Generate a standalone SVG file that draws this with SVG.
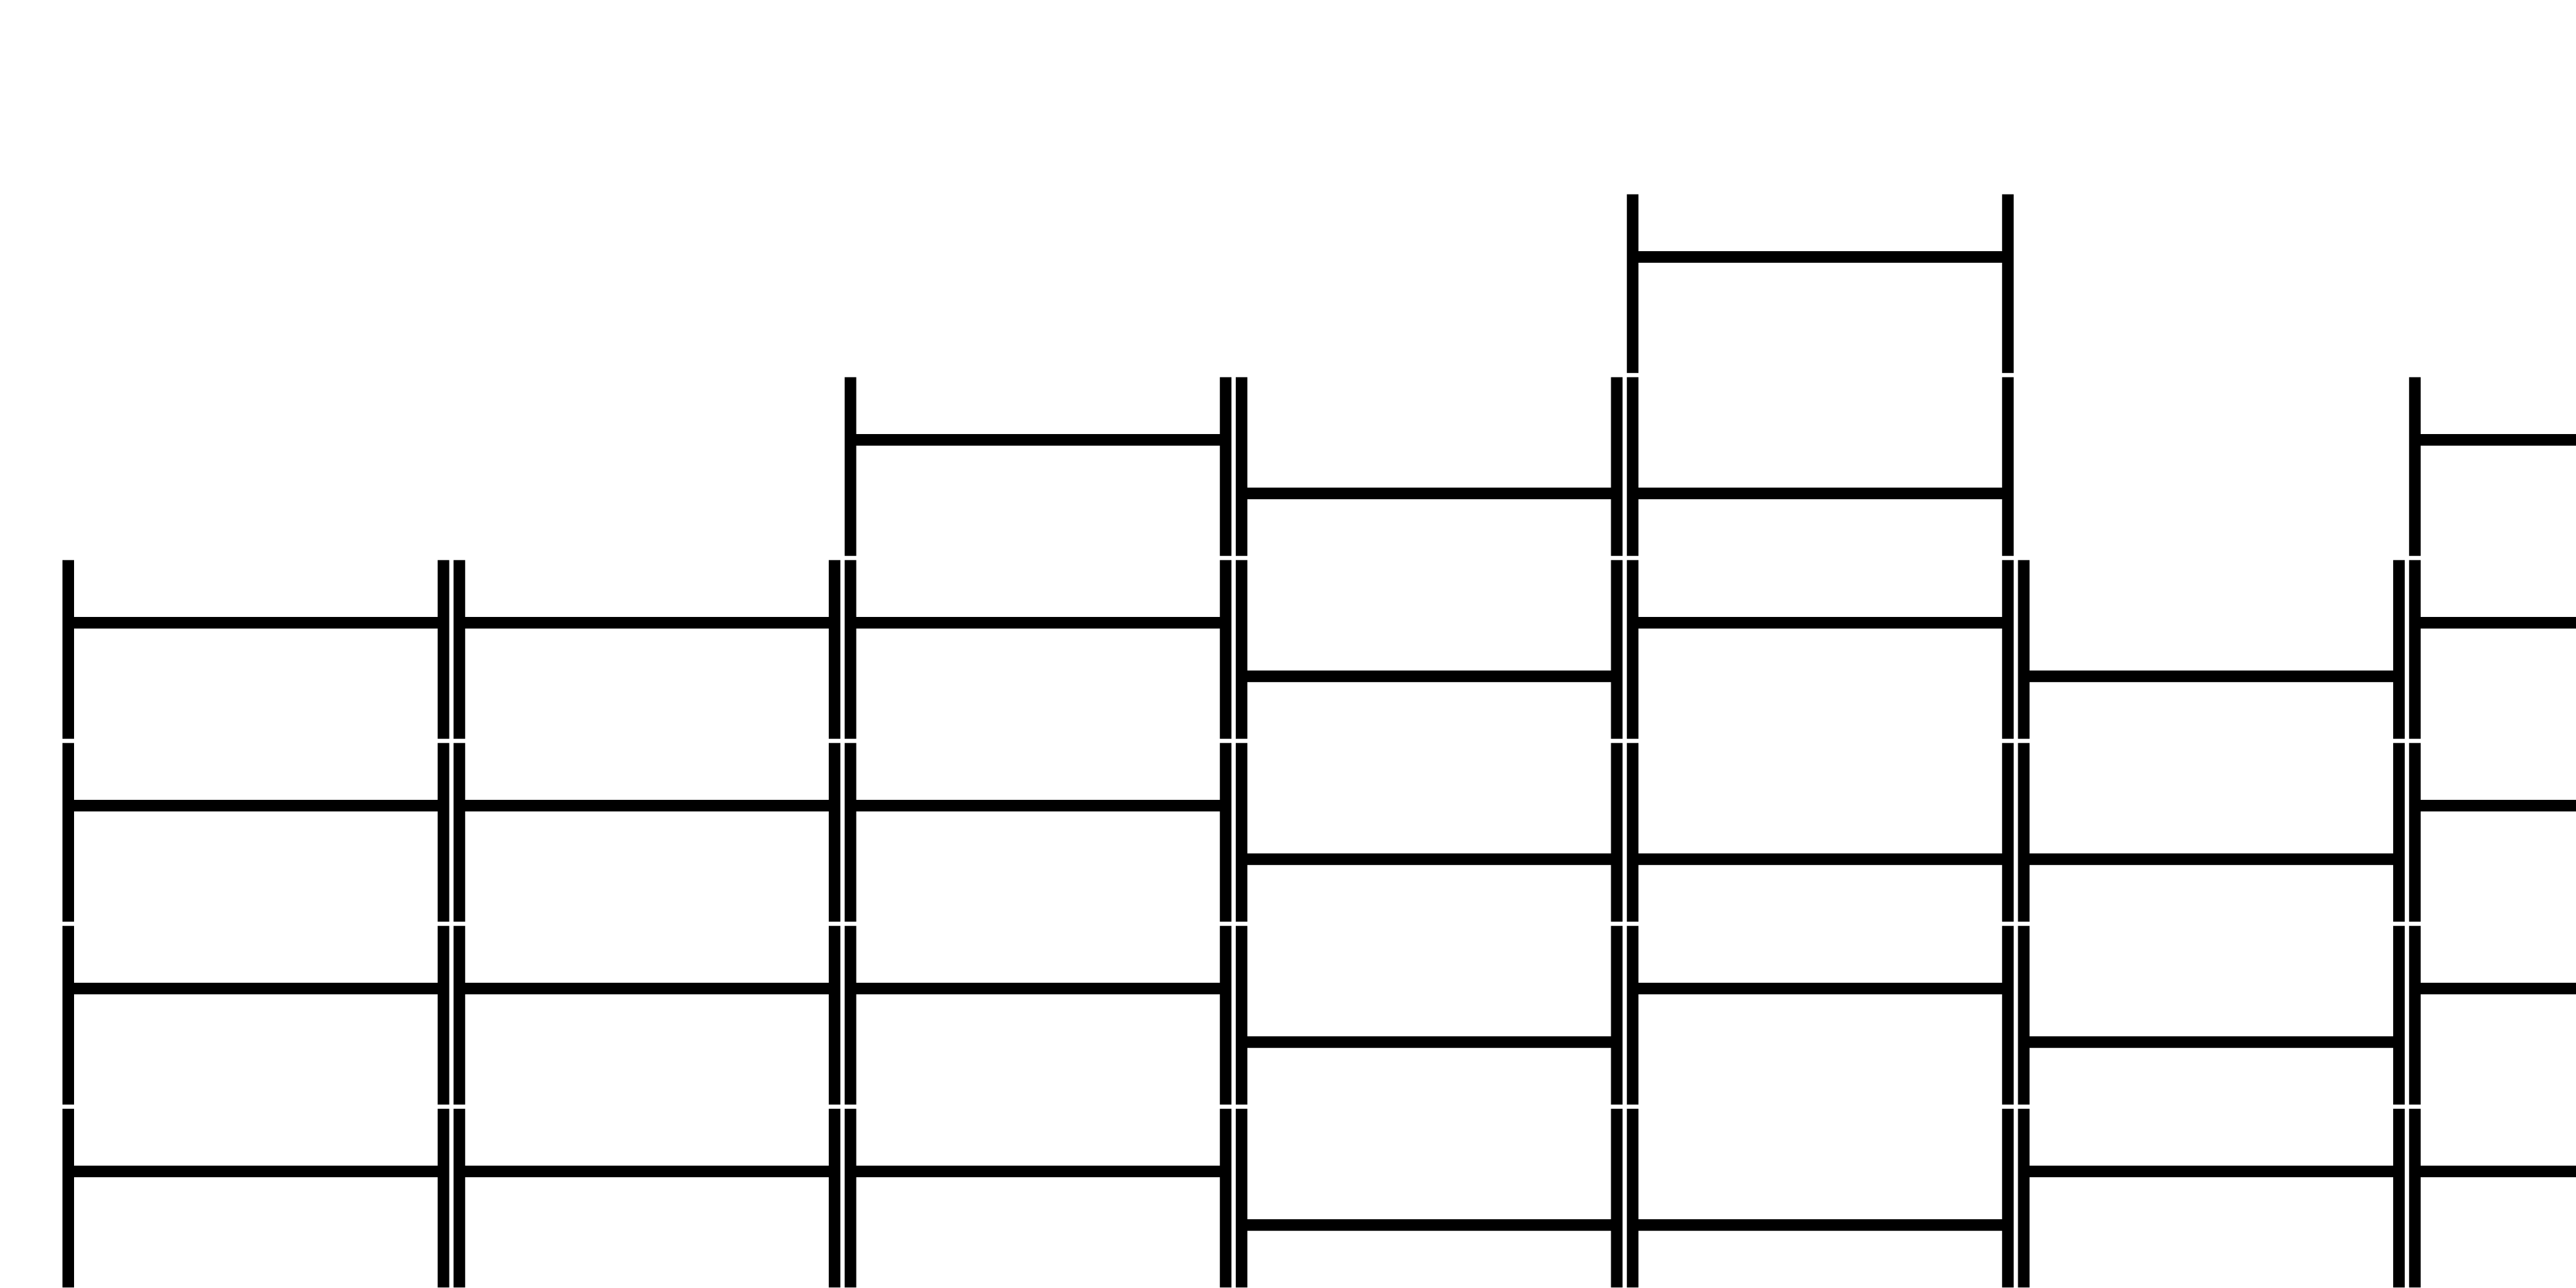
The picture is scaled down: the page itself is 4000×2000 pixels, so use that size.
<svg xmlns="http://www.w3.org/2000/svg" width="4000" height="2000" viewBox="0 0 4000 2000">
  <style>
    .p { fill: #000; }
  </style>
  <defs>
    <g id="segU">
      <rect class="p" x="0" y="0" width="18" height="277.5"/>
      <rect class="p" x="582.6" y="0" width="18" height="277.5"/>
      <rect class="p" x="9" y="88.3" width="582.6" height="18"/>
    </g>
    <g id="segL">
      <rect class="p" x="0" y="0" width="18" height="277.5"/>
      <rect class="p" x="582.6" y="0" width="18" height="277.5"/>
      <rect class="p" x="9" y="171.5" width="582.6" height="18"/>
    </g>
  </defs>
  <rect x="0" y="0" width="4000" height="2000" fill="#fff"/>
  <g id="column1">
    <use id="c1-l3" href="#segU" x="97" y="869.7"/>
    <use id="c1-l4" href="#segU" x="97" y="1153.7"/>
    <use id="c1-l5" href="#segU" x="97" y="1437.7"/>
    <use id="c1-l6" href="#segU" x="97" y="1721.7"/>
  </g>
  <g id="column2">
    <use id="c2-l3" href="#segU" x="704.3" y="869.7"/>
    <use id="c2-l4" href="#segU" x="704.3" y="1153.7"/>
    <use id="c2-l5" href="#segU" x="704.3" y="1437.7"/>
    <use id="c2-l6" href="#segU" x="704.3" y="1721.7"/>
  </g>
  <g id="column3">
    <use id="c3-l2" href="#segU" x="1311.6" y="585.7"/>
    <use id="c3-l3" href="#segU" x="1311.6" y="869.7"/>
    <use id="c3-l4" href="#segU" x="1311.6" y="1153.7"/>
    <use id="c3-l5" href="#segU" x="1311.6" y="1437.7"/>
    <use id="c3-l6" href="#segU" x="1311.6" y="1721.7"/>
  </g>
  <g id="column4">
    <use id="c4-l2" href="#segL" x="1918.9" y="585.7"/>
    <use id="c4-l3" href="#segL" x="1918.9" y="869.7"/>
    <use id="c4-l4" href="#segL" x="1918.9" y="1153.7"/>
    <use id="c4-l5" href="#segL" x="1918.9" y="1437.7"/>
    <use id="c4-l6" href="#segL" x="1918.9" y="1721.7"/>
  </g>
  <g id="column5">
    <use id="c5-l1" href="#segU" x="2526.2" y="301.7"/>
    <use id="c5-l2" href="#segL" x="2526.2" y="585.7"/>
    <use id="c5-l3" href="#segU" x="2526.2" y="869.7"/>
    <use id="c5-l4" href="#segL" x="2526.2" y="1153.7"/>
    <use id="c5-l5" href="#segU" x="2526.2" y="1437.7"/>
    <use id="c5-l6" href="#segL" x="2526.2" y="1721.7"/>
  </g>
  <g id="column6">
    <use id="c6-l3" href="#segL" x="3133.5" y="869.7"/>
    <use id="c6-l4" href="#segL" x="3133.5" y="1153.7"/>
    <use id="c6-l5" href="#segL" x="3133.5" y="1437.7"/>
    <use id="c6-l6" href="#segU" x="3133.5" y="1721.7"/>
  </g>
  <g id="column7">
    <use id="c7-l2" href="#segU" x="3740.8" y="585.7"/>
    <use id="c7-l3" href="#segU" x="3740.8" y="869.7"/>
    <use id="c7-l4" href="#segU" x="3740.8" y="1153.7"/>
    <use id="c7-l5" href="#segU" x="3740.8" y="1437.7"/>
    <use id="c7-l6" href="#segU" x="3740.8" y="1721.7"/>
  </g>
  <g id="connectors"></g>
</svg>
